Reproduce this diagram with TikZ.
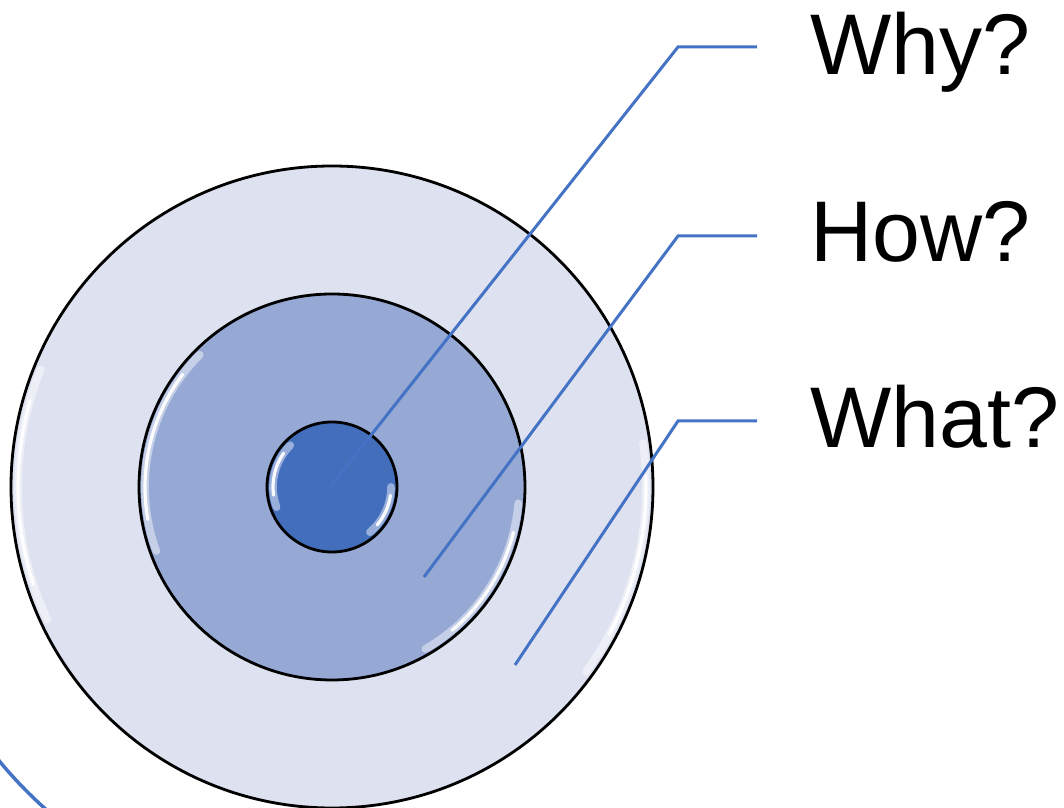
\documentclass[tikz,border=0pt]{standalone}
\usepackage{fontspec}
\setmainfont{Liberation Sans}
\usetikzlibrary{positioning}
\definecolor{ringOuter}{RGB}{222,226,240}
\definecolor{ringMid}{RGB}{150,169,213}
\definecolor{ringCore}{RGB}{66,110,188}
\definecolor{leadBlue}{RGB}{68,114,196}

\begin{document}
\begin{tikzpicture}[
    ring/.style={circle, draw=black, line width=0.8pt, inner sep=0pt, outer sep=0pt},
    gloss/.style={draw=white, line width=2.2pt, opacity=0.45, line cap=round},
    shine/.style={draw=white, line width=0.9pt, opacity=0.95, line cap=round},
    lead/.style={draw=leadBlue, line width=0.85pt},
    tag/.style={font=\fontsize{24.5}{29}\selectfont, anchor=base west, inner sep=0pt}
  ]
    \clip (0,0) rectangle (10.64,8.08);
    \coordinate (c) at (3.32,3.21);
    % rings
    \node[ring, fill=ringOuter, minimum size=6.42cm] (outer) at (c) {};
    \draw[gloss] ([shift={(158:3.14)}]c) arc (158:205:3.14);
    \draw[shine] ([shift={(164:3.14)}]c) arc (164:198:3.14);
    \draw[gloss] ([shift={(-36:3.14)}]c) arc (-36:8:3.14);
    \draw[shine] ([shift={(-28:3.14)}]c) arc (-28:2:3.14);
    \node[ring, fill=ringMid, minimum size=3.86cm] (mid) at (c) {};
    \draw[gloss] ([shift={(135:1.87)}]c) arc (135:200:1.87);
    \draw[shine] ([shift={(143:1.87)}]c) arc (143:190:1.87);
    \draw[gloss] ([shift={(-60:1.87)}]c) arc (-60:-5:1.87);
    \draw[shine] ([shift={(-50:1.87)}]c) arc (-50:-14:1.87);
    \node[ring, fill=ringCore, minimum size=1.30cm] (core) at (c) {};
    \draw[gloss] ([shift={(135:0.59)}]c) arc (135:200:0.59);
    \draw[shine] ([shift={(145:0.59)}]c) arc (145:188:0.59);
    \draw[gloss] ([shift={(-50:0.59)}]c) arc (-50:0:0.59);
    \draw[shine] ([shift={(-40:0.59)}]c) arc (-40:-8:0.59);
    % outer arc at the corner
    \draw[lead, line width=1pt] ([shift={(218:4.31)}]c) arc (218:232:4.31);
    % labels
    \node[tag] (why) at (8.10,7.33) {Why?};
    \node[tag] (how) at (8.10,5.46) {How?};
    \node[tag] (what) at (8.10,3.60) {What?};
    \coordinate (whyIn) at (3.30,3.21);
    \coordinate (whyBend) at (6.78,7.61);
    \coordinate (whyEnd) at (7.57,7.61);
    \coordinate (howIn) at (4.24,2.31);
    \coordinate (howBend) at (6.78,5.72);
    \coordinate (howEnd) at (7.57,5.72);
    \coordinate (whatIn) at (5.15,1.43);
    \coordinate (whatBend) at (6.78,3.87);
    \coordinate (whatEnd) at (7.57,3.87);
    \draw[lead] (whyIn) -- (whyBend) -- (whyEnd);
    \draw[lead] (howIn) -- (howBend) -- (howEnd);
    \draw[lead] (whatIn) -- (whatBend) -- (whatEnd);
  \end{tikzpicture}
\end{document}
